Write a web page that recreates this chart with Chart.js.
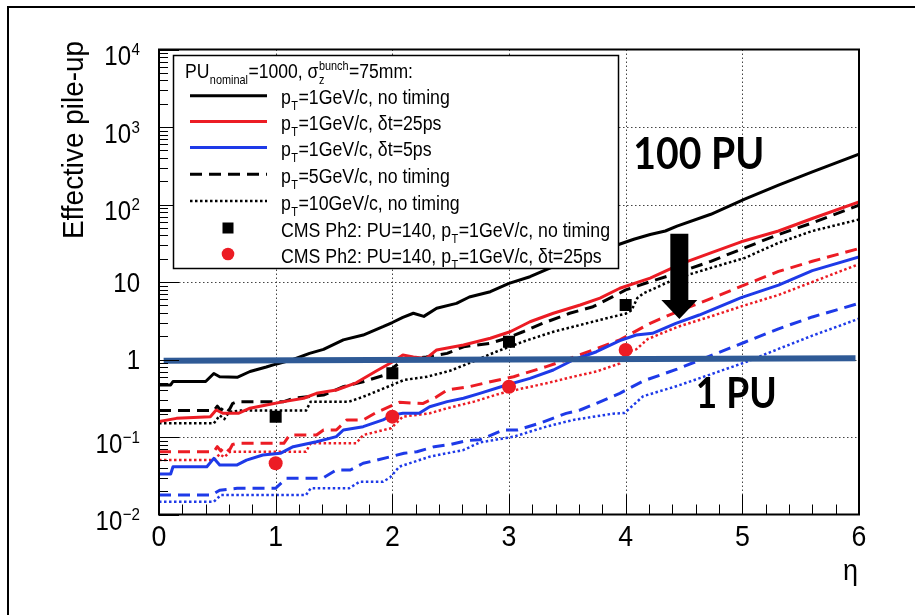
<!DOCTYPE html>
<html><head><meta charset="utf-8">
<script src="https://cdn.jsdelivr.net/npm/chart.js@4/dist/chart.umd.min.js"></script>
<style>html,body{margin:0;padding:0;background:#fff;overflow:hidden;width:915px;height:615px;}canvas{display:block;}</style>
</head><body>
<canvas id="c" width="915" height="615"></canvas>
<script>
// ---------- data ----------
const eta_pt1_noT = [0,0.1,0.12,0.4,0.47,0.52,0.67,0.78,0.92,1.0,1.15,1.29,1.41,1.58,1.75,1.92,2.0,2.09,2.18,2.27,2.38,2.55,2.66,2.84,3.0,3.18,3.35,3.55,3.75,3.94,4.07,4.21,4.34,4.44,4.73,5.02,5.31,5.6,6.0];
const pu_pt1_noT  = [0.47,0.47,0.52,0.52,0.66,0.60,0.59,0.70,0.80,0.87,1.0,1.2,1.35,1.79,2.07,2.65,3.0,3.5,3.95,3.6,4.58,5.3,6.4,7.5,9.6,11.7,15.1,19.5,24.5,30.5,35.6,41,45.5,52.7,74.8,117,178,264,445];

const eta_pt1_25 = [0,0.15,0.44,0.49,0.55,0.68,0.78,0.92,1.07,1.24,1.35,1.52,1.69,1.87,2.0,2.09,2.18,2.29,2.38,2.61,2.84,3.01,3.18,3.38,3.61,3.78,3.95,4.21,4.49,4.73,4.99,5.31,5.6,6.0];
const pu_pt1_25  = [0.158,0.174,0.183,0.223,0.202,0.202,0.235,0.259,0.286,0.316,0.366,0.404,0.5,0.72,0.93,1.14,1.08,1.03,1.33,1.54,1.88,2.28,3.07,3.95,5.05,6.2,8.3,11.2,17.5,23.7,33,45.5,66,108];

const eta_pt1_5 = [0,0.1,0.12,0.41,0.47,0.52,0.67,0.75,0.89,1.04,1.15,1.35,1.52,1.58,1.75,1.92,1.99,2.09,2.23,2.32,2.47,2.61,2.75,2.98,3.18,3.38,3.55,3.75,3.95,4.09,4.23,4.43,4.63,4.99,5.31,5.6,6.0];
const pu_pt1_5  = [0.0333,0.0333,0.0414,0.0414,0.053,0.0436,0.0436,0.0504,0.0586,0.0616,0.075,0.087,0.101,0.123,0.136,0.166,0.19,0.202,0.202,0.246,0.286,0.316,0.366,0.469,0.57,0.732,0.985,1.26,1.75,2.07,2.18,2.93,3.75,6.3,9.1,14,21];

const eta_pt5_noT = [0,0.47,0.5,0.53,0.56,0.6,0.63,0.67,1.07,1.15,1.41,1.58,1.75,1.92,2.09,2.29,2.47,2.61,2.84,2.98,3.12,3.29,3.52,3.72,3.89,4.0,4.21,4.44,4.73,5.02,5.31,5.6,6.0];
const pu_pt5_noT  = [0.219,0.219,0.25,0.22,0.25,0.22,0.27,0.286,0.286,0.316,0.348,0.446,0.517,0.62,0.98,1.08,1.2,1.46,1.62,1.88,2.28,2.93,3.95,4.8,6.46,7.9,10.1,13.0,18.5,27.6,41,58,98];

const eta_pt5_25 = [0,0.47,0.5,0.53,0.56,0.6,0.63,0.67,1.07,1.12,1.35,1.41,1.52,1.61,1.75,1.87,2.06,2.26,2.38,2.47,2.66,2.84,3.04,3.32,3.49,3.72,3.95,4.21,4.44,4.73,5.02,5.31,5.6,6.0];
const pu_pt5_25  = [0.0646,0.0646,0.075,0.066,0.075,0.066,0.08,0.083,0.083,0.106,0.106,0.123,0.123,0.166,0.166,0.21,0.28,0.27,0.33,0.404,0.446,0.517,0.6,0.81,0.985,1.33,1.79,2.93,4.13,6.1,9.2,13.7,18.5,27];

const eta_pt5_5 = [0,0.45,0.52,0.67,1.0,1.09,1.4,1.52,1.64,1.75,1.87,1.99,2.1,2.21,2.36,2.5,2.64,2.75,2.95,3.07,3.26,3.49,3.61,3.75,3.95,4.15,4.44,4.73,5.02,5.31,5.6,6.0];
const pu_pt5_5  = [0.0178,0.0178,0.0206,0.0218,0.0218,0.0293,0.0293,0.0375,0.0375,0.0458,0.0504,0.056,0.0616,0.0646,0.075,0.08,0.09,0.092,0.123,0.123,0.15,0.202,0.223,0.272,0.366,0.528,0.75,1.12,1.67,2.49,3.54,5.3];

const eta_pt10_noT = [0,0.47,0.52,0.56,0.6,0.69,1.26,1.3,1.63,1.75,1.92,2.1,2.3,2.5,2.66,2.89,3.12,3.38,3.61,3.89,4.0,4.05,4.1,4.15,4.44,4.73,5.02,5.31,5.6,6.0];
const pu_pt10_noT  = [0.15,0.15,0.19,0.17,0.21,0.219,0.219,0.286,0.286,0.33,0.42,0.544,0.6,0.72,0.9,1.26,1.7,2.28,2.79,3.57,3.9,4.3,6.2,7.1,11.2,15.2,20.4,32,45.5,64];

const eta_pt10_25 = [0,0.47,0.52,0.56,0.61,1.26,1.3,1.69,1.75,1.99,2.09,2.32,2.47,2.7,2.93,3.12,3.32,3.55,3.75,3.95,4.0,4.09,4.19,4.44,4.73,5.02,5.31,5.6,6.0];
const pu_pt10_25  = [0.0504,0.0504,0.06,0.055,0.0646,0.0646,0.083,0.083,0.106,0.13,0.183,0.202,0.235,0.286,0.366,0.425,0.493,0.6,0.7,0.89,1.25,1.35,1.84,2.62,3.6,5.0,6.8,10,17];

const eta_pt10_5 = [0,0.47,0.53,1.26,1.3,1.63,1.72,1.92,1.98,2.06,2.32,2.61,2.75,3.04,3.32,3.55,3.89,3.99,4.15,4.44,4.73,5.02,5.31,5.6,6.0];
const pu_pt10_5  = [0.0146,0.0146,0.0178,0.0178,0.0218,0.0218,0.0265,0.0265,0.03,0.0414,0.0557,0.068,0.085,0.101,0.136,0.166,0.2,0.204,0.336,0.455,0.644,0.915,1.37,2.03,3.36];

const eta_cms = [1,2,3,4];
const pu_cms_noT = [0.183,0.664,1.7,5.05];
const pu_cms_25  = [0.0458,0.183,0.446,1.33];

const eta_onePU = [0.04,5.97];
const pu_onePU  = [0.965,1.04];

// annotation anchors (data coordinates)
const arrowEta = 4.46, arrowTop = 42, arrowHeadBase = 5.86, arrowTip = 3.33;
const label100 = {text:'100 PU', eta:4.066, pu:287};
const label1   = {text:'1 PU', eta:4.6, pu:0.237};

const X_TICKS = [0,1,2,3,4,5,6];
const X_TICK_LABELS = ['0','1','2','3','4','5','6'];
const Y_TICKS = [0.01,0.1,1,10,100,1000,10000];
const Y_TICK_LABELS = [['10','\u22122'],['10','\u22121'],['1',''],['10',''],['10','2'],['10','3'],['10','4']];
const Y_TITLE = 'Effective pile-up';
const X_TITLE = '\u03b7';

// ---------- helpers ----------
const FAM = '"Liberation Sans", Arial, Helvetica, sans-serif';
const RED = '#ec1c24', BLUE = '#1e3ae8', BLACK = '#000';
function pts(xs, ys){ return xs.map((x,i)=>({x:x, y:ys[i]})); }
function lineDs(label, xs, ys, color, style){
  const d = {label, data: pts(xs,ys), showLine:true, borderColor:color, backgroundColor:color,
    pointRadius:0, pointHoverRadius:0, tension:0, fill:false, borderWidth:3, borderCapStyle:'butt', borderJoinStyle:'round'};
  if(style==='dash'){ d.borderDash=[12,7]; d.borderWidth=3; }
  if(style==='dot'){ d.borderDash=[2.5,2.5]; d.borderWidth=2.5; }
  return d;
}

function richWidth(ctx, parts, size){
  const small = size*0.62; let t=0;
  for(const p of parts){
    if(p.n!==undefined){ ctx.font=size+'px '+FAM; t+=ctx.measureText(p.n).width; }
    else { ctx.font=small+'px '+FAM;
      const a = p.sub? ctx.measureText(p.sub).width:0, b = p.sup? ctx.measureText(p.sup).width:0;
      t+=Math.max(a,b)+1; }
  }
  return t;
}
function drawRich(ctx, parts, x, y, size, sx){
  const small = size*0.62;
  ctx.save(); ctx.translate(x,y); ctx.scale(sx,1);
  ctx.textAlign='left'; ctx.textBaseline='alphabetic'; ctx.fillStyle='#000';
  let cx=0;
  for(const p of parts){
    if(p.n!==undefined){ ctx.font=size+'px '+FAM; ctx.fillText(p.n,cx,0); cx+=ctx.measureText(p.n).width; }
    else { ctx.font=small+'px '+FAM; let w=0;
      if(p.sub){ ctx.fillText(p.sub,cx+0.5,size*0.3); w=Math.max(w,ctx.measureText(p.sub).width); }
      if(p.sup){ ctx.fillText(p.sup,cx+0.5,-size*0.42); w=Math.max(w,ctx.measureText(p.sup).width); }
      cx+=w+1; }
  }
  ctx.restore();
}
function fitText(ctx, s, x, y, font, width){
  ctx.save(); ctx.font=font; const w=ctx.measureText(s).width;
  ctx.translate(x,y); ctx.scale(width/w,1); ctx.textAlign='left'; ctx.textBaseline='alphabetic';
  ctx.fillStyle='#000'; ctx.fillText(s,0,0); ctx.restore();
}

const decoPlugin = {
  id:'deco',
  beforeDraw(chart){
    const c=chart.ctx; c.save(); c.fillStyle='#fff'; c.fillRect(0,0,chart.width,chart.height); c.restore();
  },
  beforeDatasetsDraw(chart){
    const c=chart.ctx, a=chart.chartArea, xs=chart.scales.x, ys=chart.scales.y;
    c.save(); c.strokeStyle='#444'; c.lineWidth=1; c.setLineDash([1.5,2.5]);
    for(const v of X_TICKS){ if(v===0||v===6) continue; const px=Math.round(xs.getPixelForValue(v))+0.5;
      c.beginPath(); c.moveTo(px,a.top); c.lineTo(px,a.bottom); c.stroke(); }
    for(const v of Y_TICKS){ if(v===0.01||v===10000) continue; const py=Math.round(ys.getPixelForValue(v))+0.5;
      c.beginPath(); c.moveTo(a.left,py); c.lineTo(a.right,py); c.stroke(); }
    c.restore();
  },
  afterDatasetsDraw(chart){
    const c=chart.ctx, a=chart.chartArea, xs=chart.scales.x, ys=chart.scales.y;
    c.save();
    // ticks
    c.strokeStyle='#000'; c.lineWidth=1; c.setLineDash([]);
    for(let v=0; v<=6.0001; v+=0.2){ const px=Math.round(xs.getPixelForValue(v))+0.5;
      const major=Math.abs(v-Math.round(v))<1e-6; c.beginPath(); c.moveTo(px,a.bottom); c.lineTo(px,a.bottom-(major?20:10)); c.stroke(); }
    for(let e=-2;e<=4;e++){ for(let m=1;m<=9;m++){ const v=m*Math.pow(10,e); if(v>10000.001) break;
      const py=Math.round(ys.getPixelForValue(v))+0.5; c.beginPath(); c.moveTo(a.left,py); c.lineTo(a.left+(m===1?20:9),py); c.stroke(); } }
    // frame
    c.lineWidth=2; c.strokeRect(a.left,a.top,a.right-a.left,a.bottom-a.top);
    // y tick labels
    const SX=0.89, FS=27, ES=17;
    Y_TICKS.forEach((v,i)=>{
      const py=ys.getPixelForValue(v); const [b,ex]=Y_TICK_LABELS[i];
      c.save(); c.fillStyle='#000'; c.textBaseline='alphabetic'; c.textAlign='right';
      if(ex){
        c.font=ES+'px '+FAM; const we=c.measureText(ex).width*SX;
        c.save(); c.translate(140,py+5.5); c.scale(SX,1); c.fillText(ex,0,0); c.restore();
        c.font=FS+'px '+FAM; c.save(); c.translate(140-we-0.5,py+15.5); c.scale(SX,1); c.fillText(b,0,0); c.restore();
      } else {
        c.font=FS+'px '+FAM; c.save(); c.translate(140,py+9.7); c.scale(SX,1); c.fillText(b,0,0); c.restore();
      }
      c.restore();
    });
    // x tick labels
    X_TICKS.forEach((v,i)=>{
      const px=xs.getPixelForValue(v);
      c.save(); c.fillStyle='#000'; c.font='30px '+FAM; c.textAlign='center'; c.textBaseline='alphabetic';
      c.translate(px,546); c.scale(SX,1); c.fillText(X_TICK_LABELS[i],0,0); c.restore();
    });
    // axis titles
    c.save(); c.fillStyle='#000'; c.font='30px '+FAM; c.textAlign='center'; c.textBaseline='alphabetic';
    c.translate(83,140); c.rotate(-Math.PI/2); c.scale(0.93,1); c.fillText(Y_TITLE,0,0); c.restore();
    c.save(); c.fillStyle='#000'; c.font='30px '+FAM; c.textAlign='right'; c.textBaseline='alphabetic';
    c.translate(858,580); c.scale(0.9,1); c.fillText(X_TITLE,0,0); c.restore();

    // legend box
    const L={x:173,y:55,w:445,h:213};
    c.fillStyle='#fff'; c.fillRect(L.x,L.y,L.w,L.h);
    c.strokeStyle='#000'; c.lineWidth=1.5; c.strokeRect(L.x+0.5,L.y+0.5,L.w,L.h);
    const LS=20;
    const rows=[
      {parts:[{n:'p'},{sub:'T'},{n:'=1GeV/c, no timing'}], color:BLACK, style:'solid'},
      {parts:[{n:'p'},{sub:'T'},{n:'=1GeV/c, \u03b4t=25ps'}], color:RED, style:'solid'},
      {parts:[{n:'p'},{sub:'T'},{n:'=1GeV/c, \u03b4t=5ps'}], color:BLUE, style:'solid'},
      {parts:[{n:'p'},{sub:'T'},{n:'=5GeV/c, no timing'}], color:BLACK, style:'dash'},
      {parts:[{n:'p'},{sub:'T'},{n:'=10GeV/c, no timing'}], color:BLACK, style:'dot'},
      {parts:[{n:'CMS Ph2: PU=140, p'},{sub:'T'},{n:'=1GeV/c, no timing'}], color:BLACK, style:'square'},
      {parts:[{n:'CMS Ph2: PU=140, p'},{sub:'T'},{n:'=1GeV/c, \u03b4t=25ps'}], color:RED, style:'circle'}
    ];
    const refW = richWidth(c, rows[5].parts, LS); const LSX = 329/refW;
    const header=[{n:'PU'},{sub:'nominal'},{n:'=1000, \u03c3'},{sub:'z',sup:'bunch'},{n:'=75mm:'}];
    const hW = richWidth(c, header, LS);
    drawRich(c, header, 185, 78, LS, 228/hW);
    const baselines=[104.3,130,156,182.7,209.5,236.5,262.5];
    rows.forEach((r,i)=>{
      const by=baselines[i], ly=by-8.5;
      drawRich(c, r.parts, 281, by, LS, LSX);
      c.save(); c.strokeStyle=r.color; c.fillStyle=r.color;
      if(r.style==='solid'||r.style==='dash'||r.style==='dot'){
        c.lineWidth = r.style==='dot'?2.5:3;
        c.setLineDash(r.style==='dash'?[12,7]:(r.style==='dot'?[2.5,2.5]:[]));
        c.beginPath(); c.moveTo(190,ly); c.lineTo(267,ly); c.stroke();
      } else if(r.style==='square'){ c.fillRect(228-5.5,ly-5.5,11,11); }
      else { c.beginPath(); c.arc(228,ly,6.3,0,Math.PI*2); c.fill(); }
      c.restore();
    });

    // arrow
    const ax=xs.getPixelForValue(arrowEta), at=ys.getPixelForValue(arrowTop), ab=ys.getPixelForValue(arrowHeadBase), atp=ys.getPixelForValue(arrowTip);
    c.fillStyle='#000'; c.beginPath();
    c.moveTo(ax-9,at); c.lineTo(ax+9,at); c.lineTo(ax+9,ab); c.lineTo(ax+18,ab); c.lineTo(ax,atp); c.lineTo(ax-18,ab); c.lineTo(ax-9,ab); c.closePath(); c.fill();
    // annotation texts
    fitText(c, label100.text, xs.getPixelForValue(label100.eta), ys.getPixelForValue(label100.pu), 'bold 43px Lato, "Open Sans", sans-serif', 131);
    fitText(c, label1.text, xs.getPixelForValue(label1.eta), ys.getPixelForValue(label1.pu), 'bold 42px Lato, "Open Sans", sans-serif', 81);
    c.restore();
  },
  afterDraw(chart){
    const c=chart.ctx; c.save();
    c.fillStyle='#fff'; c.fillRect(880,10,35,605); c.fillRect(10,590,870,25);
    // re-draw eta title (it lies in the cleared strip? no: strip starts at 880)
    c.strokeStyle='#000'; c.lineWidth=2; c.setLineDash([]);
    c.beginPath(); c.moveTo(8,615); c.lineTo(8,7); c.lineTo(915,7); c.stroke(); c.restore();
  }
};

const datasets = [
  {label:'1 PU line', data:pts(eta_onePU,pu_onePU), showLine:true, borderColor:'#2f5a96', borderWidth:6, pointRadius:0, tension:0, borderCapStyle:'butt'},
  {label:'CMS Ph2: PU=140, pT=1GeV/c, no timing', data:pts(eta_cms,pu_cms_noT), showLine:false, pointStyle:'rect', pointRadius:8.5, backgroundColor:'#000', borderColor:'#000', borderWidth:0},
  {label:'CMS Ph2: PU=140, pT=1GeV/c, dt=25ps', data:pts(eta_cms,pu_cms_25), showLine:false, pointStyle:'circle', pointRadius:7, backgroundColor:RED, borderColor:RED, borderWidth:0},
  lineDs('pT=1GeV/c, no timing', eta_pt1_noT, pu_pt1_noT, BLACK, 'solid'),
  lineDs('pT=1GeV/c, dt=25ps', eta_pt1_25, pu_pt1_25, RED, 'solid'),
  lineDs('pT=1GeV/c, dt=5ps', eta_pt1_5, pu_pt1_5, BLUE, 'solid'),
  lineDs('pT=5GeV/c, no timing', eta_pt5_noT, pu_pt5_noT, BLACK, 'dash'),
  lineDs('pT=5GeV/c, dt=25ps', eta_pt5_25, pu_pt5_25, RED, 'dash'),
  lineDs('pT=5GeV/c, dt=5ps', eta_pt5_5, pu_pt5_5, BLUE, 'dash'),
  lineDs('pT=10GeV/c, no timing', eta_pt10_noT, pu_pt10_noT, BLACK, 'dot'),
  lineDs('pT=10GeV/c, dt=25ps', eta_pt10_25, pu_pt10_25, RED, 'dot'),
  lineDs('pT=10GeV/c, dt=5ps', eta_pt10_5, pu_pt10_5, BLUE, 'dot')
];

new Chart(document.getElementById('c'), {
  type:'scatter',
  data:{datasets},
  options:{
    responsive:false, animation:false, devicePixelRatio:1,
    layout:{padding:{left:0,right:56,top:49.5,bottom:0}},
    plugins:{legend:{display:false}, tooltip:{enabled:false}},
    scales:{
      x:{type:'linear', min:0, max:6, ticks:{display:false, stepSize:1}, grid:{display:false}, border:{display:false},
         afterFit(s){ s.height=100.5; }},
      y:{type:'logarithmic', min:0.01, max:10000, ticks:{display:false}, grid:{display:false}, border:{display:false},
         afterFit(s){ s.width=159; }}
    }
  },
  plugins:[decoPlugin]
});
</script>
</body></html>
